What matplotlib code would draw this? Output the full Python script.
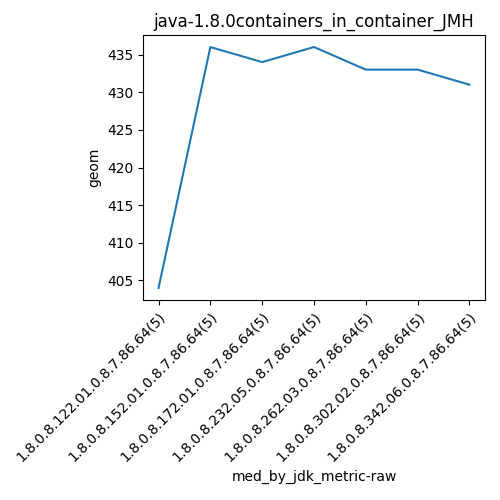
import matplotlib
matplotlib.use("Agg")
import matplotlib.pyplot as plt

# jdk versions and geom values
jdks = ["1.8.0.8.122.01.0.8.7.86.64(5)", "1.8.0.8.152.01.0.8.7.86.64(5)",
        "1.8.0.8.172.01.0.8.7.86.64(5)", "1.8.0.8.232.05.0.8.7.86.64(5)",
        "1.8.0.8.262.03.0.8.7.86.64(5)", "1.8.0.8.302.02.0.8.7.86.64(5)",
        "1.8.0.8.342.06.0.8.7.86.64(5)"]
geom = [404, 436, 434, 436, 433, 433, 431]

fig, ax = plt.subplots(figsize=(5, 5), dpi=100)
ax.plot(jdks, geom)
ax.set_title("java-1.8.0containers_in_container_JMH")
ax.set_xlabel("med_by_jdk_metric-raw")
ax.set_ylabel("geom")
plt.setp(ax.get_xticklabels(), rotation=45, ha="right", rotation_mode="anchor")
fig.subplots_adjust(left=0.286, right=0.97, top=0.93, bottom=0.4)
fig.savefig("out.png")
